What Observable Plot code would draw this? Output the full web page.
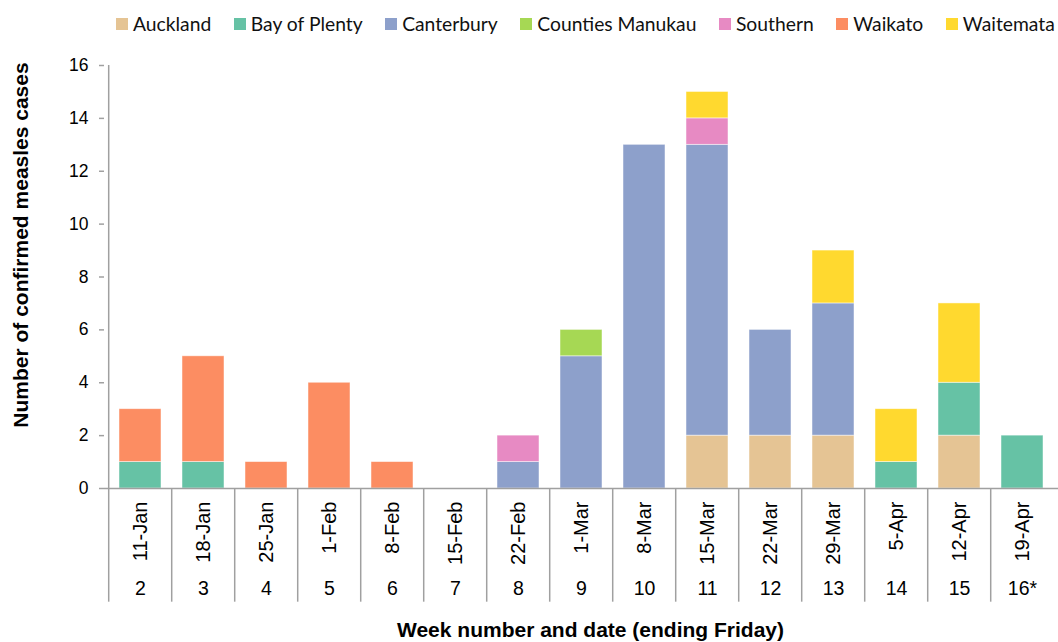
<!DOCTYPE html>
<html>
<head>
<meta charset="utf-8">
<script src="https://cdn.jsdelivr.net/npm/d3@7"></script>
<script src="https://cdn.jsdelivr.net/npm/@observablehq/plot@0.6"></script>
<style>
  html, body { margin: 0; padding: 0; background: #fff; }
  #wrap { position: relative; width: 1058px; height: 642px; overflow: hidden; }
  #legend { position: absolute; left: 116px; top: 12px; display: flex; align-items: center;
            font-family: Lato, "Open Sans", sans-serif; font-size: 19.3px; color: #111; white-space: nowrap; }
  .item { display: flex; align-items: center; margin-right: 22.5px; }
  .sw { width: 12px; height: 12px; margin-right: 5px; }
  #chart { position: absolute; left: 0; top: 0; }
</style>
</head>
<body>
<div id="wrap">
  <div id="chart"></div>
  <div id="legend"></div>
</div>
<script>
const weeks = ["11-Jan","18-Jan","25-Jan","1-Feb","8-Feb","15-Feb","22-Feb","1-Mar","8-Mar","15-Mar","22-Mar","29-Mar","5-Apr","12-Apr","19-Apr"];
const weekNums = ["2","3","4","5","6","7","8","9","10","11","12","13","14","15","16*"];
const regions = ["Auckland","Bay of Plenty","Canterbury","Counties Manukau","Southern","Waikato","Waitemata"];
const colors = ["#E5C494","#66C2A5","#8DA0CB","#A6D854","#E78AC3","#FC8D62","#FFD92F"];

const auckland        = [0,0,0,0,0,0,0,0,0,2,2,2,0,2,0];
const bayOfPlenty     = [1,1,0,0,0,0,0,0,0,0,0,0,1,2,2];
const canterbury      = [0,0,0,0,0,0,1,5,13,11,4,5,0,0,0];
const countiesManukau = [0,0,0,0,0,0,0,1,0,0,0,0,0,0,0];
const southern        = [0,0,0,0,0,0,1,0,0,1,0,0,0,0,0];
const waikato         = [2,4,1,4,1,0,0,0,0,0,0,0,0,0,0];
const waitemata       = [0,0,0,0,0,0,0,0,0,1,0,2,2,3,0];
const yTicks = [0,2,4,6,8,10,12,14,16];

const series = [auckland, bayOfPlenty, canterbury, countiesManukau, southern, waikato, waitemata];
const rows = [];
weeks.forEach((w, i) => {
  series.forEach((s, j) => { if (s[i] > 0) rows.push({week: w, region: regions[j], cases: s[i]}); });
});
const weekLabel = new Map(weeks.map((w, i) => [w, weekNums[i]]));

const W = 1058, H = 642, ML = 104, MR = 0, MT = 65, MB = 154;
const step = (W - ML - MR) / weeks.length;
const grey = "#A0A0A0";
const font = "'Liberation Sans', Arial, sans-serif";

const chart = Plot.plot({
  width: W, height: H,
  marginLeft: ML, marginRight: MR, marginTop: MT, marginBottom: MB,
  style: {fontFamily: font, color: "#000", background: "white"},
  x: {domain: weeks, paddingInner: 0.33, paddingOuter: 0.165, axis: null},
  y: {domain: [0, 16], axis: null},
  color: {domain: regions, range: colors},
  marks: [
    Plot.barY(rows, {x: "week", y: "cases", fill: "region", order: regions,
                     stroke: "white", strokeWidth: 0.8, strokeOpacity: 0.6}),
    Plot.ruleY([0], {stroke: grey, strokeWidth: 1.5}),
    Plot.ruleX([weeks[0]], {dx: -step / 2, y1: 0, y2: 16, stroke: grey, strokeWidth: 1.5}),
    Plot.ruleX(weeks, {dx: -step / 2, y1: 0, y2: -4.3, stroke: grey, strokeWidth: 1.5}),
    Plot.axisY({ticks: yTicks, tickSize: 5, tickPadding: 11, fontSize: 17.5, stroke: grey, strokeWidth: 1.5, label: null, tickFormat: d => d}),
    Plot.axisX({tickSize: 0, tickPadding: 13, tickRotate: -90, fontSize: 20, label: null}),
    Plot.axisX({tickSize: 0, tickPadding: 93, fontSize: 19.5, label: null, tickFormat: d => weekLabel.get(d)}),
    Plot.text(["Number of confirmed measles cases"], {frameAnchor: "left", textAnchor: "middle", rotate: -90, dx: -83, dy: -32,
               fontSize: 21, fontWeight: "bold", fill: "#000"}),
    Plot.text(["Week number and date (ending Friday)"], {frameAnchor: "bottom", dx: 9, dy: 148,
               fontSize: 21, fontWeight: "bold", fill: "#000", letterSpacing: "0.7px"})
  ]
});
document.getElementById("chart").appendChild(chart);

const legend = document.getElementById("legend");
regions.forEach((r, i) => {
  const it = document.createElement("div");
  it.className = "item";
  const sw = document.createElement("div");
  sw.className = "sw";
  sw.style.background = colors[i];
  const t = document.createElement("span");
  t.textContent = r;
  it.appendChild(sw); it.appendChild(t);
  legend.appendChild(it);
});
</script>
</body>
</html>
